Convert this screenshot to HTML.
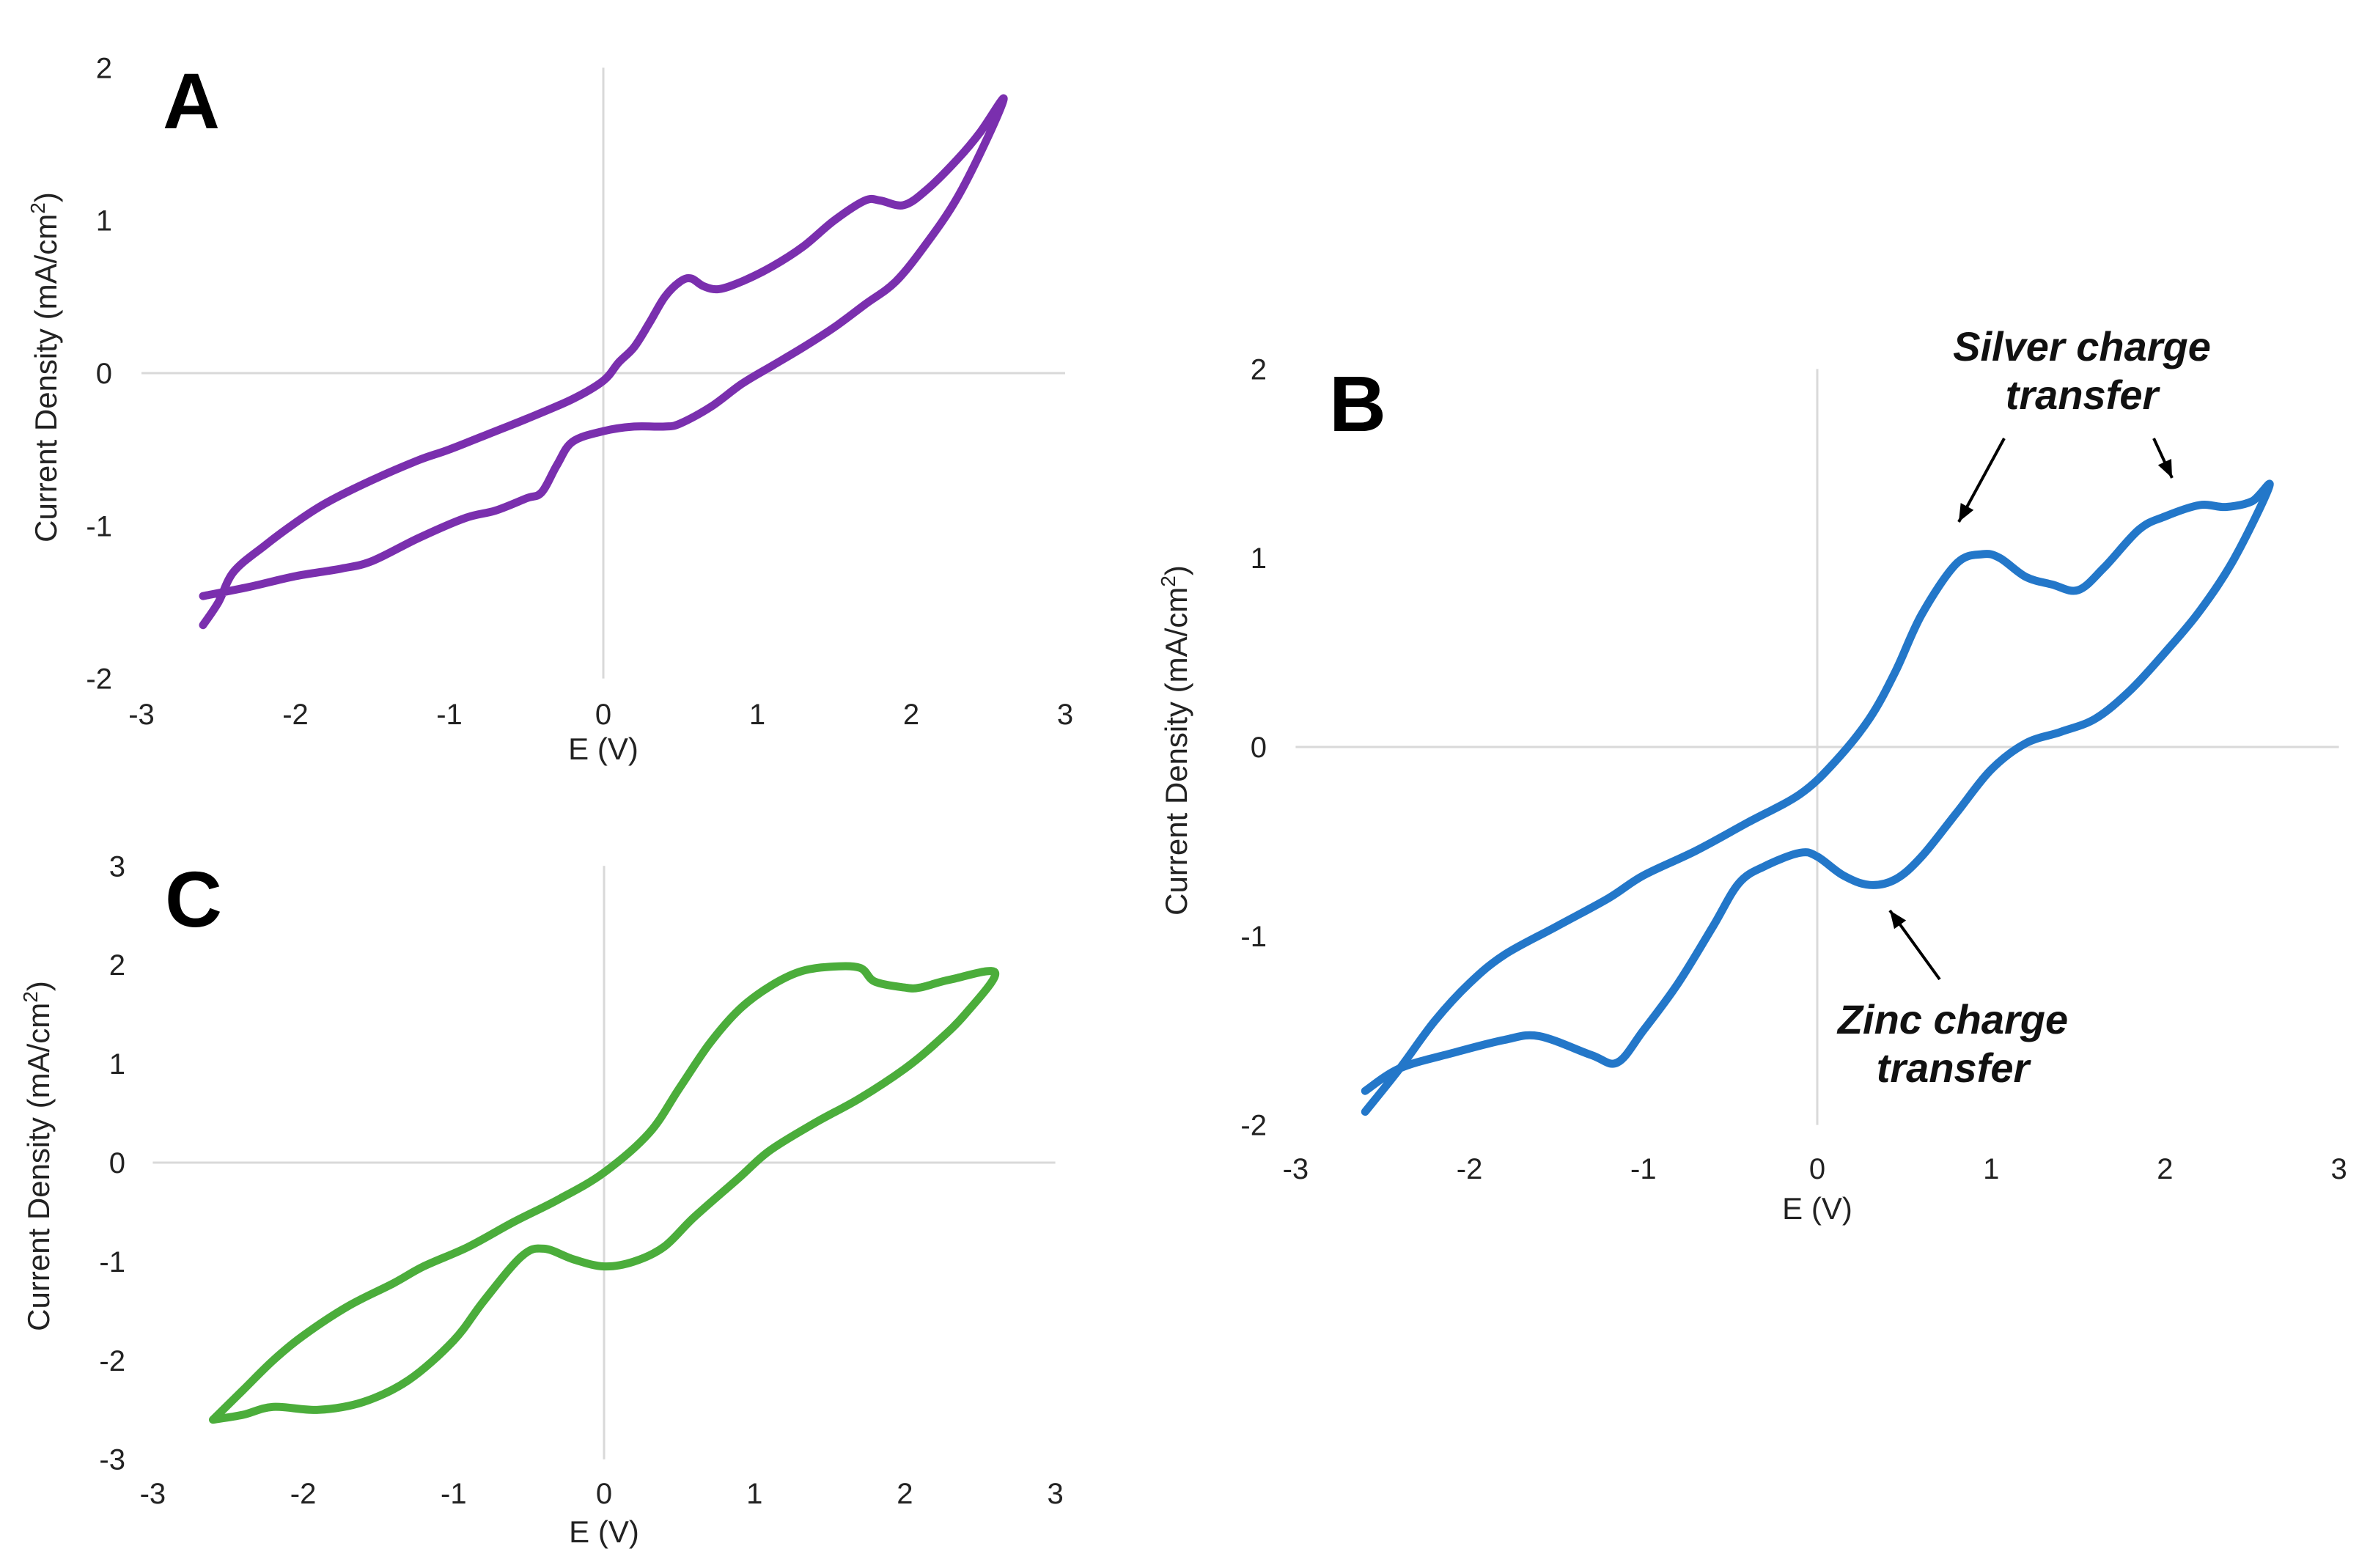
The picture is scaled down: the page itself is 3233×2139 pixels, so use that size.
<!DOCTYPE html>
<html><head><meta charset="utf-8"><style>
html,body{margin:0;padding:0;background:#fff;overflow:hidden;}
svg{display:block;}
text{font-family:"Liberation Sans",Arial,sans-serif;}
</style></head><body>
<svg id="fig" width="3233" height="2139" viewBox="0 0 3233 2139" xmlns="http://www.w3.org/2000/svg"></svg>
<script>
// ---- Data ----
const xTicks = [-3,-2,-1,0,1,2,3];
const yTicksA = [-2,-1,0,1,2];
const yTicksB = [-2,-1,0,1,2];
const yTicksC = [-3,-2,-1,0,1,2,3];
const aForwardE = [-2.6,-2.5,-2.4,-2.2,-2.0,-1.8,-1.5,-1.2,-1.0,-0.7,-0.5,-0.2,0,0.1,0.2,0.3,0.4,0.5,0.57,0.65,0.75,0.9,1.1,1.3,1.5,1.7,1.8,1.95,2.1,2.3,2.45,2.6];
const aForwardI = [-1.65,-1.5,-1.3,-1.13,-0.98,-0.85,-0.7,-0.57,-0.5,-0.38,-0.3,-0.17,-0.05,0.07,0.17,0.33,0.5,0.6,0.62,0.57,0.55,0.6,0.7,0.83,1.0,1.13,1.13,1.1,1.2,1.4,1.58,1.8];
const aReverseE = [2.5,2.3,2.1,1.9,1.7,1.5,1.3,1.1,0.9,0.7,0.5,0.4,0.2,0,-0.2,-0.3,-0.4,-0.5,-0.7,-0.9,-1.2,-1.5,-1.7,-2.0,-2.3,-2.6];
const aReverseI = [1.55,1.15,0.85,0.6,0.45,0.3,0.17,0.05,-0.07,-0.22,-0.33,-0.35,-0.35,-0.38,-0.45,-0.6,-0.78,-0.82,-0.9,-0.95,-1.08,-1.23,-1.28,-1.33,-1.4,-1.46];
const bForwardE = [-2.6,-2.4,-2.2,-2.0,-1.8,-1.5,-1.2,-1.0,-0.7,-0.4,-0.1,0.1,0.3,0.45,0.6,0.8,0.95,1.05,1.2,1.35,1.5,1.65,1.85,2.0,2.2,2.35,2.5,2.6];
const bForwardI = [-1.93,-1.7,-1.45,-1.25,-1.1,-0.95,-0.8,-0.68,-0.55,-0.4,-0.25,-0.08,0.15,0.4,0.7,0.97,1.02,1.0,0.9,0.86,0.83,0.95,1.15,1.22,1.28,1.27,1.3,1.38];
const bReverseE = [2.4,2.2,2.0,1.8,1.6,1.4,1.2,1.0,0.8,0.6,0.45,0.3,0.15,0.0,-0.1,-0.3,-0.45,-0.6,-0.8,-1.0,-1.15,-1.3,-1.6,-1.8,-2.1,-2.4,-2.6];
const bReverseI = [1.0,0.72,0.5,0.3,0.15,0.08,0.02,-0.12,-0.35,-0.58,-0.7,-0.73,-0.68,-0.58,-0.56,-0.63,-0.72,-0.95,-1.25,-1.5,-1.67,-1.63,-1.53,-1.55,-1.62,-1.7,-1.82];
const cForwardE = [-2.6,-2.4,-2.2,-2.0,-1.7,-1.4,-1.2,-0.9,-0.6,-0.3,0,0.3,0.5,0.7,0.9,1.1,1.3,1.5,1.7,1.8,2.0,2.1,2.3,2.6];
const cForwardI = [-2.6,-2.3,-2.0,-1.75,-1.45,-1.22,-1.05,-0.85,-0.6,-0.37,-0.1,0.3,0.75,1.2,1.55,1.78,1.93,1.98,1.97,1.83,1.77,1.77,1.85,1.92];
const cReverseE = [2.4,2.2,2.0,1.7,1.4,1.1,0.9,0.6,0.4,0.2,0.0,-0.2,-0.4,-0.55,-0.8,-1.0,-1.3,-1.6,-1.9,-2.2,-2.4,-2.6];
const cReverseI = [1.5,1.2,0.95,0.65,0.4,0.12,-0.15,-0.55,-0.85,-1.0,-1.05,-0.98,-0.87,-0.95,-1.4,-1.8,-2.2,-2.42,-2.5,-2.47,-2.55,-2.6];

const NS = "http://www.w3.org/2000/svg";
const svg = document.getElementById('fig');
function mk(tag, attrs, parent, txt){
  const e = document.createElementNS(NS, tag);
  for (const k in attrs) e.setAttribute(k, attrs[k]);
  if (txt !== undefined) e.textContent = txt;
  (parent||svg).appendChild(e);
  return e;
}
function smoothPath(pts){
  let d = `M${pts[0][0].toFixed(1)},${pts[0][1].toFixed(1)}`;
  for (let i=0;i<pts.length-1;i++){
    const p0=pts[Math.max(0,i-1)], p1=pts[i], p2=pts[i+1], p3=pts[Math.min(pts.length-1,i+2)];
    const c1x=p1[0]+(p2[0]-p0[0])/6, c1y=p1[1]+(p2[1]-p0[1])/6;
    const c2x=p2[0]-(p3[0]-p1[0])/6, c2y=p2[1]-(p3[1]-p1[1])/6;
    d += ` C${c1x.toFixed(1)},${c1y.toFixed(1)} ${c2x.toFixed(1)},${c2y.toFixed(1)} ${p2[0].toFixed(1)},${p2[1].toFixed(1)}`;
  }
  return d;
}
function panel(cfg){
  const g = mk('g', {});
  
  
  const xs = v => cfg.x0 + v*cfg.xu;
  const ys = v => cfg.y0 - v*cfg.yu;
  const ymin = cfg.yTicks[0], ymax = cfg.yTicks[cfg.yTicks.length-1];
  const hl = mk('line', {x1:xs(-3), x2:xs(3), y1:ys(0), y2:ys(0), stroke:'#d9d9d9', 'stroke-width':3}, g);
  
  
  const vl = mk('line', {x1:xs(0), x2:xs(0), y1:ys(ymax), y2:ys(ymin), stroke:'#d9d9d9', 'stroke-width':3}, g);
  
  
  xTicks.forEach(t => {
    const e = mk('text', {x:xs(t), y:cfg.xLabY, 'font-size':40, 'text-anchor':'middle', fill:'#222'}, g, String(t));
    
    
  });
  cfg.yTicks.forEach(t => {
    const e = mk('text', {x:cfg.yLabX, y:ys(t)+14, 'font-size':40, 'text-anchor':'end', fill:'#222'}, g, String(t));
    
    
  });
  const xt = mk('text', {x:xs(0), y:cfg.xTitleY, 'font-size':42, 'text-anchor':'middle', fill:'#222'}, g, 'E (V)');
  
  
  const yt = mk('text', {x:0, y:0, 'font-size':42, 'text-anchor':'middle', fill:'#222', transform:`translate(${cfg.yTitleX},${cfg.yTitleY}) rotate(-90)`}, g);
  
  
  yt.appendChild(document.createTextNode('Current Density (mA/cm'));
  mk('tspan', {'font-size':28, dy:-16}, yt, '2');
  mk('tspan', {dy:16}, yt, ')');
  const lab = mk('text', {x:cfg.labX, y:cfg.labY, 'font-size':108, 'font-weight':'bold', fill:'#000'}, g, cfg.letter);
  
  
  const pts = cfg.fE.map((e,i)=>[xs(e), ys(cfg.fI[i])]).concat(cfg.rE.map((e,i)=>[xs(e), ys(cfg.rI[i])]));
  const p = mk('path', {d:smoothPath(pts), fill:'none', stroke:cfg.color, 'stroke-width':11, 'stroke-linejoin':'round', 'stroke-linecap':'round'}, g);
  
  
  return g;
}
panel({name:'panel-a', letter:'A', x0:823, xu:210, y0:509, yu:208.3, yTicks:yTicksA, xLabY:988, yLabX:153, xTitleY:1036, yTitleX:77, yTitleY:501, labX:222, labY:175, color:'#7a2fae', fE:aForwardE, fI:aForwardI, rE:aReverseE, rI:aReverseI});
panel({name:'panel-b', letter:'B', x0:2479, xu:237.2, y0:1019, yu:257.8, yTicks:yTicksB, xLabY:1608, yLabX:1728, xTitleY:1663, yTitleX:1619, yTitleY:1010, labX:1813, labY:588, color:'#2377c9', fE:bForwardE, fI:bForwardI, rE:bReverseE, rI:bReverseI});
panel({name:'panel-c', letter:'C', x0:824, xu:205.2, y0:1586, yu:134.9, yTicks:yTicksC, xLabY:2051, yLabX:171, xTitleY:2104, yTitleX:67, yTitleY:1577, labX:225, labY:1264, color:'#4bad3b', fE:cForwardE, fI:cForwardI, rE:cReverseE, rI:cReverseI});

// annotations
function ann(lines, cx, y0){
  lines.forEach((t,i)=>{
    const e = mk('text', {x:cx, y:y0+i*66, 'font-size':56, 'font-weight':'bold', 'font-style':'italic', 'text-anchor':'middle', fill:'#111'}, undefined, t);
    
    
  });
}
ann(['Silver charge','transfer'], 2840, 492);
ann(['Zinc charge','transfer'], 2664, 1410);
function arrow(x1,y1,x2,y2){
  const l = mk('line', {x1,y1,x2,y2, stroke:'#000', 'stroke-width':4});
  
  
  const ang = Math.atan2(y2-y1,x2-x1), s=24, w=10;
  const bx=x2-s*Math.cos(ang), by=y2-s*Math.sin(ang);
  const h = mk('polygon', {points:`${x2},${y2} ${bx+w*Math.sin(ang)},${by-w*Math.cos(ang)} ${bx-w*Math.sin(ang)},${by+w*Math.cos(ang)}`, fill:'#000'});
  
  
}
arrow(2734,598,2672,712);
arrow(2938,598,2963,652);
arrow(2646,1336,2578,1242);
</script>
</body></html>
